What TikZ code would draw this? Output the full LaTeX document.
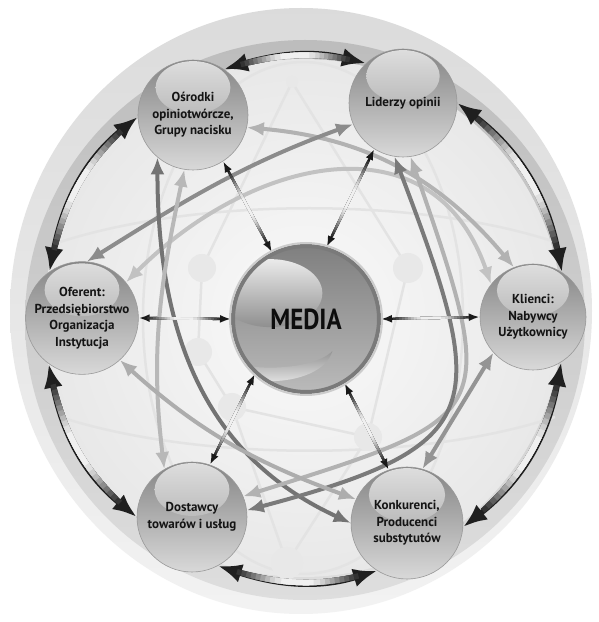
\documentclass[tikz,border=0pt]{standalone}
\usepackage{fontspec}
\setmainfont{PT Sans}
\usepackage{graphicx}
\usetikzlibrary{arrows.meta,calc}
\pgfdeclarelayer{bg}
\pgfdeclarelayer{conn}
\pgfsetlayers{bg,conn,main}
\tikzset{
  nball/.style={circle, inner sep=0pt, minimum size=#1 pt, draw=black!40, line width=0.6pt,
    top color=black!48, bottom color=black!15, text=black!92, align=center,
    font=\bfseries\fontsize{13}{16.5}\selectfont,
    path picture={\shade[top color=black!13, bottom color=black!40]
      ($(path picture bounding box.center)!0.5!(path picture bounding box.north)$)
      ellipse ({0.34*#1} and {0.24*#1});}},
  mball/.style={circle, inner sep=0pt, minimum size=146pt, draw=black!52, line width=4pt,
    top color=black!50, bottom color=black!27, text=black!95,
    font=\bfseries\fontsize{29}{29}\selectfont,
    path picture={
      \begin{scope}[shift={(path picture bounding box.center)}]
        \shade[top color=black!8, bottom color=black!44] (0,36) ellipse (52 and 34);
        \shade[top color=black!42, bottom color=black!3] (-62,-22) .. controls (-50,-62) and (50,-62) .. (62,-22)
           .. controls (40,-44) and (-40,-44) .. (-62,-22) -- cycle;
      \end{scope}}},
  outarr/.style={line width=5.5pt, draw=black!88, {Latex[length=24pt,width=19pt]}-{Latex[length=24pt,width=19pt]}},
  spoke/.style={line width=2.4pt, draw=black!90, {Latex[length=11pt,width=8pt]}-{Latex[length=11pt,width=8pt]}},
  garr/.style={line width=4pt, draw=#1, {Latex[length=17pt,width=14pt]}-{Latex[length=17pt,width=14pt]}},
  shl/.style n args={4}{postaction={/utils/exec={\pgfmathsetmacro\shA{#2*#3}\pgfmathsetmacro\shB{#3-2*\shA}},
      draw=black!#1, arrows=-, line width=#4, shorten <=0pt, shorten >=0pt,
      dash pattern=on 0pt off \shA pt on \shB pt off 3000pt}},
  shine/.style 2 args={
    shl={80}{0.12}{#1}{#2}, shl={72}{0.15}{#1}{#2}, shl={63}{0.18}{#1}{#2},
    shl={54}{0.21}{#1}{#2}, shl={45}{0.24}{#1}{#2}, shl={36}{0.27}{#1}{#2},
    shl={27}{0.30}{#1}{#2}, shl={19}{0.33}{#1}{#2}, shl={12}{0.36}{#1}{#2},
    shl={6}{0.40}{#1}{#2}},
  faint/.style={draw=black!11, line width=2.5pt},
  dot/.style={fill=black!9}
}
\begin{document}
\begin{tikzpicture}[x=1pt,y=1pt]
\useasboundingbox (0,0) rectangle (598,622);
\begin{pgfonlayer}{bg}
  \fill[white] (0,0) rectangle (598,622);
  \shade[top color=black!14, bottom color=black!5] (301,311) ellipse (291 and 303);
  \shade[top color=black!26, bottom color=black!13] (305,302) circle (280);
  \shade[inner color=black!2, outer color=black!9] (303,304) circle (259);
  \draw[faint] (303,304) ellipse (160 and 256);
  \draw[faint] (60,380) .. controls (200,425) and (420,425) .. (555,380);
  \draw[faint] (60,205) .. controls (200,160) and (420,160) .. (555,205);
  \draw[faint] (202,354) -- (198,270) -- (232,215) -- (287,59);
  \draw[faint] (232,215) -- (368,185) -- (408,354);
  \draw[faint] (368,185) -- (287,59);
  \draw[faint] (202,354) -- (292,540) -- (408,354);
  \fill[dot] (202,354) circle (14);
  \fill[dot] (198,270) circle (14);
  \fill[dot] (232,215) circle (14);
  \fill[dot] (408,354) circle (15);
  \fill[dot] (368,185) circle (14);
  \fill[dot] (287,59) circle (16);
  \fill[dot] (292,540) circle (6);
\end{pgfonlayer}

\node[nball=110] (O) at (193,507) {Ośrodki\\opiniotwórcze,\\Grupy nacisku};
\node[nball=108] (L) at (403,519) {Liderzy opinii};
\node[nball=110] (F) at (82,304) {Oferent:\\Przedsiębiorstwo\\Organizacja\\Instytucja};
\node[mball] (M) at (306,303) {\scalebox{0.86}[1]{MEDIA}};
\node[nball=106] (K) at (533,305) {Klienci:\\Nabywcy\\Użytkownicy};
\node[nball=110] (D) at (192,105) {Dostawcy\\towarów i usług};
\node[nball=112] (C) at (407,99) {Konkurenci,\\Producenci\\substytutów};
\draw[black!20, line width=2pt] (M.center) circle (76);

\begin{pgfonlayer}{conn}
  % grey cross links
  \draw[garr=black!30] (O.347) to[out=-5,in=130] (K.111);
  \draw[garr=black!45] (F.85) to[out=32,in=200] (L.203);
  \draw[garr=black!24] (F.39) to[out=45,in=109,looseness=1.25] (K.142);
  \draw[garr=black!55] (O.230) .. controls +(0,-200) and +(-130,60) .. (C.180);
  \draw[garr=black!28] (O.261) to[out=-102,in=97] (D.120);
  \draw[garr=black!30] (L.278) .. controls +(90,-260) and +(255,80) .. (D.22);
  \draw[garr=black!52] (L.261) .. controls +(95,-250) and +(245,65) .. (D.7);
  \draw[garr=black!42] (K.222) -- (C.74);
  \draw[garr=black!32] (F.312) to[out=-42,in=160] (C.155);
  % spokes
  \draw[spoke, shine={95}{2.4pt}] (M.180) -- (F.0);
  \draw[spoke, shine={100}{2.4pt}] (M.0) -- (K.180);
  \draw[spoke, shine={104}{2.4pt}] (O.303) -- (M.117);
  \draw[spoke, shine={110}{2.4pt}] (L.238) -- (M.74);
  \draw[spoke, shine={102}{2.4pt}] (M.227) -- (D.71);
  \draw[spoke, shine={99}{2.4pt}] (M.301) -- (C.109);
  % outer ring
  \draw[outarr, shine={145}{5.5pt}] (O.56) to[out=16,in=166] (L.133);
  \draw[outarr, shine={205}{5.5pt}] (L.0) to[out=-37,in=101] (K.57);
  \draw[outarr, shine={195}{5.5pt}] (K.302) to[out=-100,in=38] (C.356);
  \draw[outarr, shine={162}{5.5pt}] (C.238) to[out=-163,in=-18] (D.298);
  \draw[outarr, shine={182}{5.5pt}] (D.180) to[out=141,in=-79] (F.234);
  \draw[outarr, shine={183}{5.5pt}] (F.125) to[out=79,in=219] (O.182);
\end{pgfonlayer}
\end{tikzpicture}
\end{document}
